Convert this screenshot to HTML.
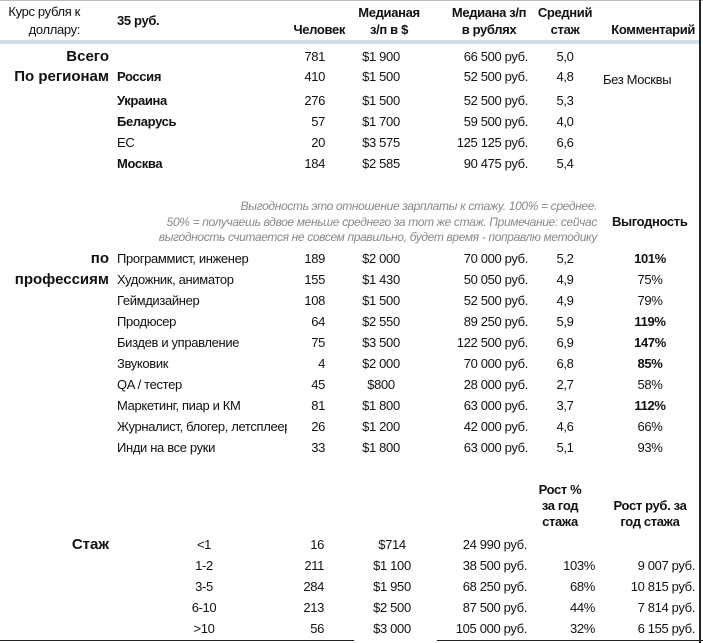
<!DOCTYPE html>
<html><head><meta charset="utf-8"><style>
body{margin:0;width:703px;height:643px;background:#fff;position:relative;overflow:hidden;font-family:"Liberation Sans","DejaVu Sans",sans-serif;font-size:13px;letter-spacing:-0.35px;color:#111}
div{position:absolute;white-space:nowrap;line-height:16px}
.b{font-weight:bold}
.B{font-weight:bold;font-size:15px;line-height:18px;letter-spacing:0}
.c{width:100px;text-align:center}
.i{font-style:italic;color:#888;font-size:12px}
</style></head><body>
<div style="left:0;top:0;width:703px;height:1px;background:#bbb"></div>
<div style="left:0;top:40px;width:700px;height:4px;background:#d5dce4"></div>
<div style="left:699px;top:0;width:2px;height:643px;background:#222"></div>
<div style="left:0;top:640px;width:354px;height:1px;background:#222"></div>
<div style="left:437px;top:640px;width:266px;height:1px;background:#222"></div>

<div style="right:623px;top:4px">Курс рубля к</div>
<div style="right:623px;top:22px">доллару:</div>
<div class="b" style="left:117px;top:13px">35 руб.</div>
<div class="b" style="right:358px;top:22px">Человек</div>
<div class="b c" style="left:339px;top:5px">Медианая</div>
<div class="b c" style="left:339px;top:22px">з/п в $</div>
<div class="b c" style="left:439px;top:5px">Медиана з/п</div>
<div class="b c" style="left:439px;top:22px">в рублях</div>
<div class="b c" style="left:515px;top:5px">Средний</div>
<div class="b c" style="left:515px;top:22px">стаж</div>
<div class="b" style="right:8px;top:22px">Комментарий</div>

<div class="B" style="right:594px;top:48px">Всего</div>
<div class="B" style="right:594px;top:68px">По регионам</div>
<div style="right:378px;top:49px">781</div><div class="c" style="left:331px;top:49px">$1 900</div><div style="right:175px;top:49px">66 500 руб.</div><div class="c" style="left:515px;top:49px">5,0</div>

<div class="b" style="left:117px;top:69px">Россия</div><div style="right:378px;top:69px">410</div><div class="c" style="left:331px;top:69px">$1 500</div><div style="right:175px;top:69px">52 500 руб.</div><div class="c" style="left:515px;top:69px">4,8</div><div style="left:603px;top:72px">Без Москвы</div>
<div class="b" style="left:117px;top:93px">Украина</div><div style="right:378px;top:93px">276</div><div class="c" style="left:331px;top:93px">$1 500</div><div style="right:175px;top:93px">52 500 руб.</div><div class="c" style="left:515px;top:93px">5,3</div>
<div class="b" style="left:117px;top:114px">Беларусь</div><div style="right:378px;top:114px">57</div><div class="c" style="left:331px;top:114px">$1 700</div><div style="right:175px;top:114px">59 500 руб.</div><div class="c" style="left:515px;top:114px">4,0</div>
<div style="left:117px;top:135px">ЕС</div><div style="right:378px;top:135px">20</div><div class="c" style="left:331px;top:135px">$3 575</div><div style="right:175px;top:135px">125 125 руб.</div><div class="c" style="left:515px;top:135px">6,6</div>
<div class="b" style="left:117px;top:156px">Москва</div><div style="right:378px;top:156px">184</div><div class="c" style="left:331px;top:156px">$2 585</div><div style="right:175px;top:156px">90 475 руб.</div><div class="c" style="left:515px;top:156px">5,4</div>

<div class="i" style="right:106px;top:198px">Выгодность это отношение зарплаты к стажу. 100% = среднее.</div>
<div class="i" style="right:106px;top:214px">50% = получаешь вдвое меньше среднего за тот же стаж. Примечание: сейчас</div>
<div class="i" style="right:106px;top:229px">выгодность считается не совсем правильно, будет время - поправлю методику</div>
<div class="b" style="left:612px;top:214px">Выгодность</div>

<div class="B" style="right:594px;top:250px">по</div>
<div class="B" style="right:594px;top:271px">профессиям</div>

<div style="left:117px;top:251px">Программист, инженер</div><div style="right:378px;top:251px">189</div><div class="c" style="left:331px;top:251px">$2 000</div><div style="right:175px;top:251px">70 000 руб.</div><div class="c" style="left:515px;top:251px">5,2</div><div class="b c" style="left:600px;top:251px">101%</div>
<div style="left:117px;top:272px">Художник, аниматор</div><div style="right:378px;top:272px">155</div><div class="c" style="left:331px;top:272px">$1 430</div><div style="right:175px;top:272px">50 050 руб.</div><div class="c" style="left:515px;top:272px">4,9</div><div class="c" style="left:600px;top:272px">75%</div>
<div style="left:117px;top:293px">Геймдизайнер</div><div style="right:378px;top:293px">108</div><div class="c" style="left:331px;top:293px">$1 500</div><div style="right:175px;top:293px">52 500 руб.</div><div class="c" style="left:515px;top:293px">4,9</div><div class="c" style="left:600px;top:293px">79%</div>
<div style="left:117px;top:314px">Продюсер</div><div style="right:378px;top:314px">64</div><div class="c" style="left:331px;top:314px">$2 550</div><div style="right:175px;top:314px">89 250 руб.</div><div class="c" style="left:515px;top:314px">5,9</div><div class="b c" style="left:600px;top:314px">119%</div>
<div style="left:117px;top:335px">Биздев и управление</div><div style="right:378px;top:335px">75</div><div class="c" style="left:331px;top:335px">$3 500</div><div style="right:175px;top:335px">122 500 руб.</div><div class="c" style="left:515px;top:335px">6,9</div><div class="b c" style="left:600px;top:335px">147%</div>
<div style="left:117px;top:356px">Звуковик</div><div style="right:378px;top:356px">4</div><div class="c" style="left:331px;top:356px">$2 000</div><div style="right:175px;top:356px">70 000 руб.</div><div class="c" style="left:515px;top:356px">6,8</div><div class="b c" style="left:600px;top:356px">85%</div>
<div style="left:117px;top:377px">QA / тестер</div><div style="right:378px;top:377px">45</div><div class="c" style="left:331px;top:377px">$800</div><div style="right:175px;top:377px">28 000 руб.</div><div class="c" style="left:515px;top:377px">2,7</div><div class="c" style="left:600px;top:377px">58%</div>
<div style="left:117px;top:398px">Маркетинг, пиар и КМ</div><div style="right:378px;top:398px">81</div><div class="c" style="left:331px;top:398px">$1 800</div><div style="right:175px;top:398px">63 000 руб.</div><div class="c" style="left:515px;top:398px">3,7</div><div class="b c" style="left:600px;top:398px">112%</div>
<div style="left:117px;top:419px;width:170px;overflow:hidden">Журналист, блогер, летсплеер</div><div style="right:378px;top:419px">26</div><div class="c" style="left:331px;top:419px">$1 200</div><div style="right:175px;top:419px">42 000 руб.</div><div class="c" style="left:515px;top:419px">4,6</div><div class="c" style="left:600px;top:419px">66%</div>
<div style="left:117px;top:440px">Инди на все руки</div><div style="right:378px;top:440px">33</div><div class="c" style="left:331px;top:440px">$1 800</div><div style="right:175px;top:440px">63 000 руб.</div><div class="c" style="left:515px;top:440px">5,1</div><div class="c" style="left:600px;top:440px">93%</div>

<div class="b c" style="left:510px;top:482px">Рост %</div>
<div class="b c" style="left:510px;top:498px">за год</div>
<div class="b c" style="left:510px;top:514px">стажа</div>
<div class="b c" style="left:600px;top:498px">Рост руб. за</div>
<div class="b c" style="left:600px;top:514px">год стажа</div>

<div class="B" style="right:594px;top:536px">Стаж</div>
<div class="c" style="left:154px;top:537px">&lt;1</div><div style="right:379px;top:537px">16</div><div class="c" style="left:342px;top:537px">$714</div><div style="right:176px;top:537px">24 990 руб.</div>
<div class="c" style="left:154px;top:558px">1-2</div><div style="right:379px;top:558px">211</div><div class="c" style="left:342px;top:558px">$1 100</div><div style="right:176px;top:558px">38 500 руб.</div><div style="right:108px;top:558px">103%</div><div style="right:8px;top:558px">9 007 руб.</div>
<div class="c" style="left:154px;top:579px">3-5</div><div style="right:379px;top:579px">284</div><div class="c" style="left:342px;top:579px">$1 950</div><div style="right:176px;top:579px">68 250 руб.</div><div style="right:108px;top:579px">68%</div><div style="right:8px;top:579px">10 815 руб.</div>
<div class="c" style="left:154px;top:600px">6-10</div><div style="right:379px;top:600px">213</div><div class="c" style="left:342px;top:600px">$2 500</div><div style="right:176px;top:600px">87 500 руб.</div><div style="right:108px;top:600px">44%</div><div style="right:8px;top:600px">7 814 руб.</div>
<div class="c" style="left:154px;top:621px">&gt;10</div><div style="right:379px;top:621px">56</div><div class="c" style="left:342px;top:621px">$3 000</div><div style="right:176px;top:621px">105 000 руб.</div><div style="right:108px;top:621px">32%</div><div style="right:8px;top:621px">6 155 руб.</div>
</body></html>
